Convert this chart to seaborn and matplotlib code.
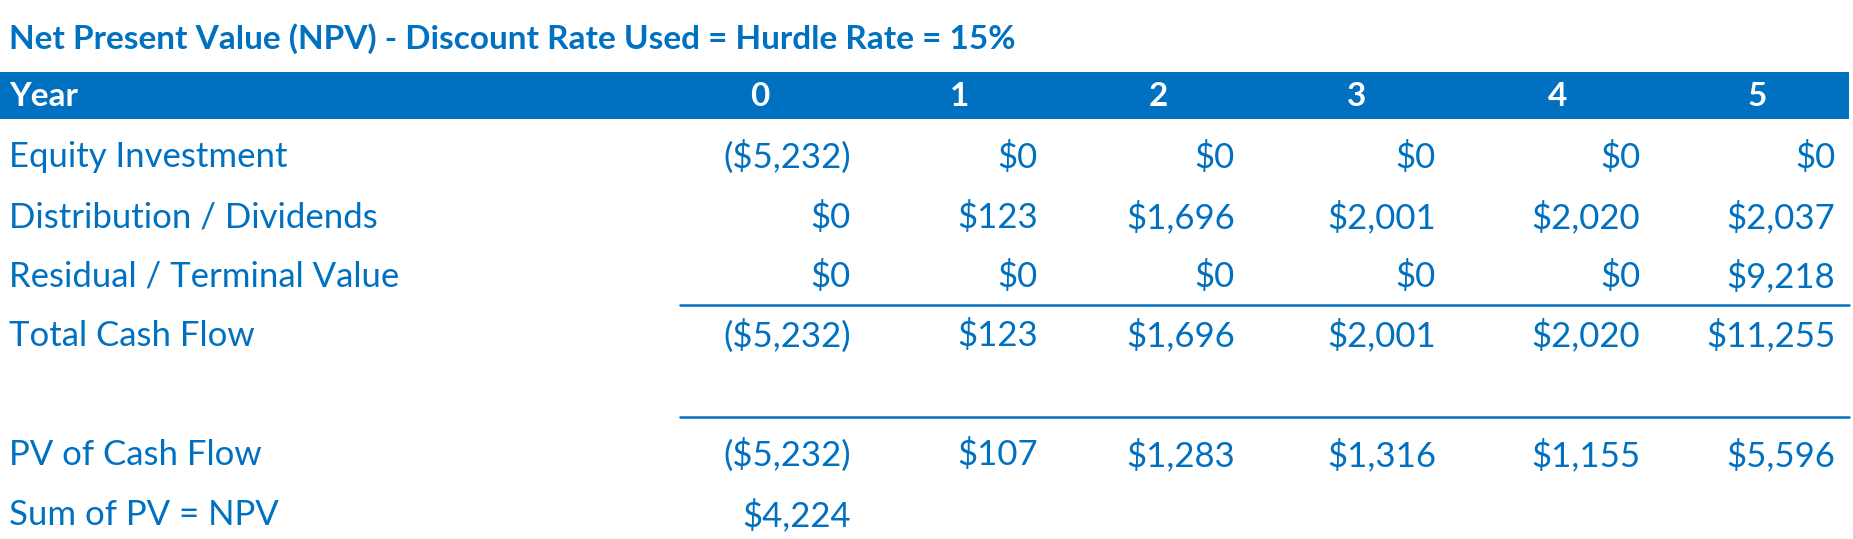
import matplotlib
matplotlib.use("Agg")
import matplotlib.pyplot as plt
import seaborn as sns

sns.set_theme(style="white")
plt.rcParams['font.family'] = ['Lato', 'DejaVu Sans']

title = "Net Present Value (NPV) - Discount Rate Used = Hurdle Rate = 15%"
years = ["0", "1", "2", "3", "4", "5"]
row_labels = ["Equity Investment", "Distribution / Dividends", "Residual / Terminal Value",
              "Total Cash Flow", "", "PV of Cash Flow", "Sum of PV = NPV"]
equity = ["($5,232)", "$0", "$0", "$0", "$0", "$0"]
dividends = ["$0", "$123", "$1,696", "$2,001", "$2,020", "$2,037"]
residual = ["$0", "$0", "$0", "$0", "$0", "$9,218"]
total = ["($5,232)", "$123", "$1,696", "$2,001", "$2,020", "$11,255"]
pv = ["($5,232)", "$107", "$1,283", "$1,316", "$1,155", "$5,596"]
npv = ["$4,224", "", "", "", "", ""]
rows = [equity, dividends, residual, total, [""] * 6, pv, npv]

blue = "#0070C0"
fig = plt.figure(figsize=(18.53, 5.39), dpi=100)
ax = fig.add_axes([0, 0, 1, 1])
W = 1568
H = 539 * W / 1853
ax.set_xlim(0, W)
ax.set_ylim(H, 0)
ax.axis("off")

ax.text(8, 33, title, color=blue, fontsize=24, fontweight="bold", va="center", ha="left")
ax.add_patch(plt.Rectangle((0, 61), 1565, 40, color=blue, lw=0))
ax.text(8, 82, "Year", color="white", fontsize=24, fontweight="bold", va="center")
hdr_x = [643, 812, 980, 1148, 1318, 1487]
for x, y in zip(hdr_x, years):
    ax.text(x, 82, y, color="white", fontsize=24, fontweight="bold", va="center", ha="center")

col_x = [720, 878, 1045, 1215, 1388, 1553]
row_y = [133, 184, 234, 284, 334, 385, 436]
for lab, vals, y in zip(row_labels, rows, row_y):
    ax.text(8, y, lab, color=blue, fontsize=25, va="center", ha="left")
    for x, v in zip(col_x, vals):
        ax.text(x, y, v, color=blue, fontsize=25, va="center", ha="right")

ax.plot([575, 1565], [258, 258], color=blue, lw=1.8)
ax.plot([575, 1565], [353, 353], color=blue, lw=1.8)

fig.savefig("out.png", dpi=100, facecolor="white")
